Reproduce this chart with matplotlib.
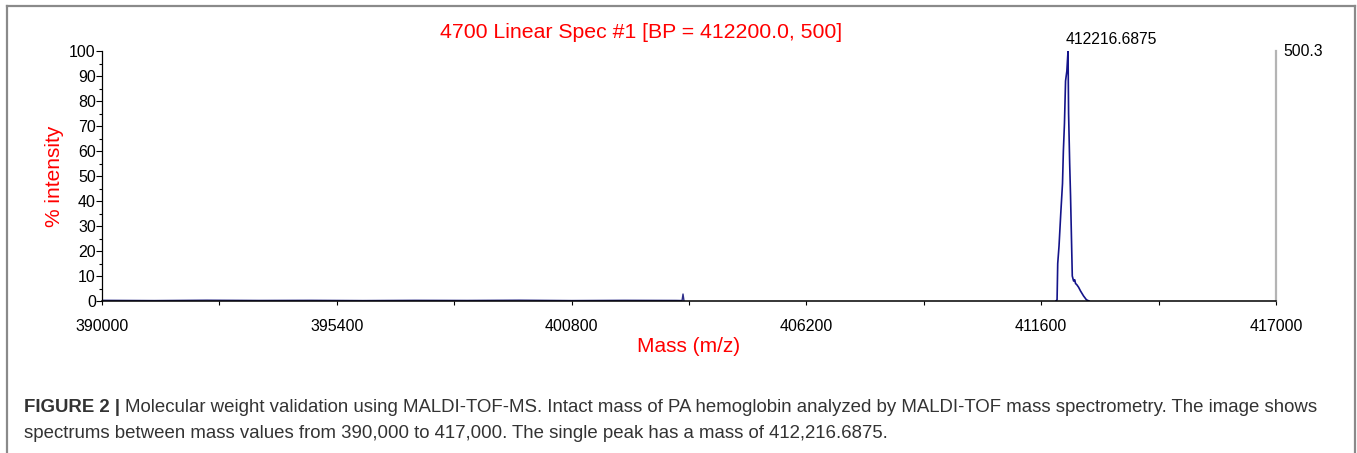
import numpy as np
import matplotlib.pyplot as plt
from matplotlib.lines import Line2D
from matplotlib.ticker import MultipleLocator

plt.rcParams['font.family'] = ['Liberation Sans', 'DejaVu Sans']

# baseline trace (low mass region) and the small spike near 403,360
low_mass = [390000, 391200, 392400, 393600, 394800, 396000, 397200, 398400,
            399600, 400800, 402000, 403200, 403340, 403362, 403385]
low_int = [0.3, 0.2, 0.35, 0.25, 0.3, 0.2, 0.3, 0.25, 0.35, 0.2, 0.3, 0.25,
           0.2, 2.8, 0.0]

# main peak
peak_mass = [411940, 411965, 411980, 412010, 412050, 412090, 412110, 412135,
             412160, 412190, 412217, 412230, 412255, 412275, 412300, 412315,
             412330, 412345, 412370, 412390, 412420, 412460, 412505, 412540,
             412575, 412640, 412700]
peak_int = [0.0, 0.5, 15, 22, 35, 47, 60, 71, 88, 92, 100, 75, 55, 42, 22, 10,
            9, 8, 8.5, 7, 6.5, 5.5, 4, 3, 2, 0.5, 0.0]

x_ticks = [390000, 395400, 400800, 406200, 411600, 417000]
x_minor = [392700, 398100, 403500, 408900, 414300]

peak_label = '412216.6875'
abs_int = '500.3'
title = '4700 Linear Spec #1 [BP = 412200.0, 500]'

fig = plt.figure(figsize=(13.57, 4.53), dpi=100)
ax = fig.add_axes([0.0752, 0.3355, 0.8651, 0.5519])

ax.plot(low_mass, low_int, color='#2e2e8a', lw=1)
ax.plot(peak_mass, peak_int, color='#14148a', lw=1.2)

ax.set_xlim(390000, 417000)
ax.set_ylim(0, 100)
ax.set_xticks(x_ticks)
ax.set_xticklabels([str(t) for t in x_ticks])
ax.set_xticks(x_minor, minor=True)
ax.yaxis.set_major_locator(MultipleLocator(10))
ax.yaxis.set_minor_locator(MultipleLocator(5))
ax.tick_params(axis='x', which='both', length=3, width=0.8, pad=10, labelsize=11.5)
ax.tick_params(axis='y', which='major', length=4, width=0.8, pad=0.5, labelsize=11.5)
ax.tick_params(axis='y', which='minor', length=2.5, width=0.8)

ax.spines['top'].set_visible(False)
ax.spines['right'].set_color('#b4b4b4')
ax.spines['right'].set_linewidth(1.6)
ax.spines['left'].set_linewidth(0.9)
ax.spines['bottom'].set_linewidth(1.1)

ax.set_xlabel('Mass (m/z)', color='red', fontsize=15, labelpad=2)
ax.set_ylabel('% intensity', color='red', fontsize=15, labelpad=4)

ax.annotate(peak_label, xy=(412216.6875, 100), xytext=(-2, 3),
            textcoords='offset points', ha='left', va='bottom', fontsize=11.3)
ax.annotate(abs_int, xy=(1, 1), xycoords='axes fraction', xytext=(5, 0),
            textcoords='offset points', ha='left', va='center', fontsize=11.3)

fig.text(641 / 1357, 1 - 32 / 453, title, color='red', fontsize=15.3,
         ha='center', va='center')

# frame around the figure
fc = '#8a8a8a'
fig.add_artist(Line2D([7 / 1357, 7 / 1357], [0.003, 1 - 6 / 453], color=fc, lw=1.6))
fig.add_artist(Line2D([7 / 1357, 1355 / 1357], [1 - 6 / 453, 1 - 6 / 453], color=fc, lw=1.6))
fig.add_artist(Line2D([1355 / 1357, 1355 / 1357], [0.003, 1 - 6 / 453], color=fc, lw=1.6))

# caption
cap_col = '#333333'
b = fig.text(24 / 1357, 1 - 408 / 453, 'FIGURE 2 |', fontsize=13.45, fontweight='bold',
             color=cap_col, ha='left', va='center')
fig.canvas.draw()
bb = b.get_window_extent()
fig.text((bb.x1 + 5) / 1357, 1 - 408 / 453,
         'Molecular weight validation using MALDI-TOF-MS. Intact mass of PA hemoglobin '
         'analyzed by MALDI-TOF mass spectrometry. The image shows',
         fontsize=13.45, color=cap_col, ha='left', va='center')
fig.text(24 / 1357, 1 - 434 / 453,
         'spectrums between mass values from 390,000 to 417,000. The single peak has a '
         'mass of 412,216.6875.',
         fontsize=13.45, color=cap_col, ha='left', va='center')

fig.savefig('out.png', dpi=100)
